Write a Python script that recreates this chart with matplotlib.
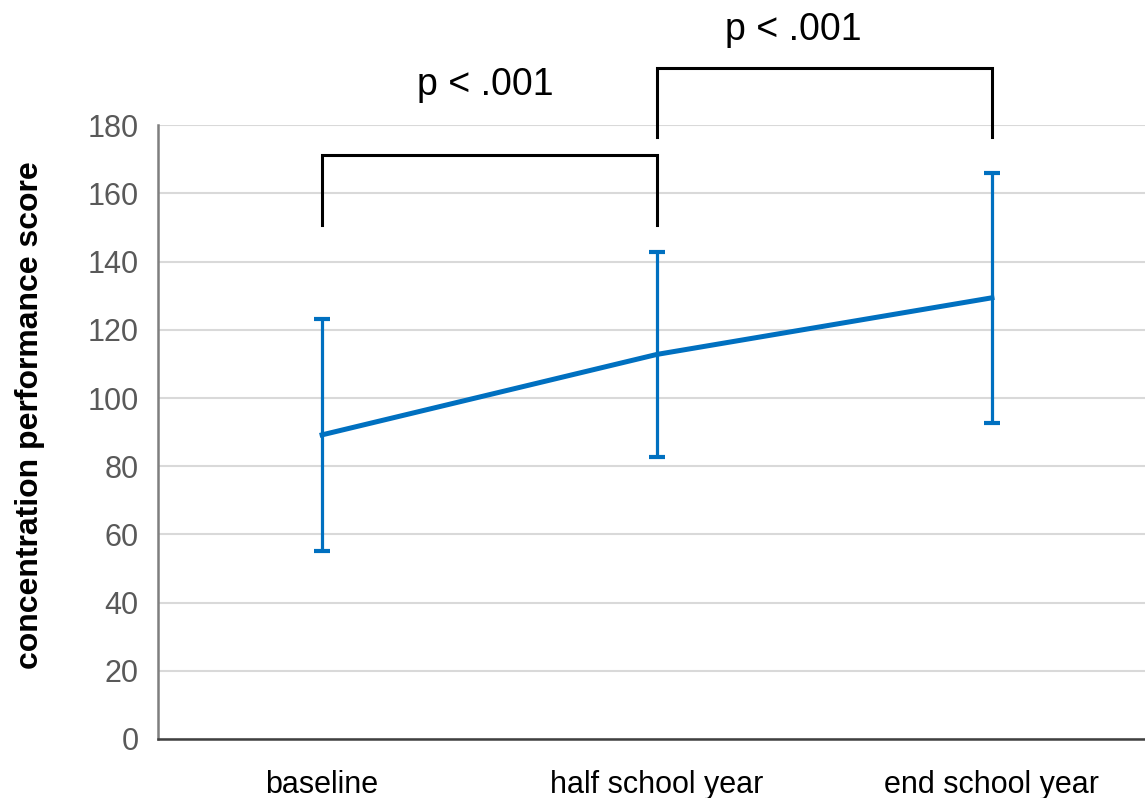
import matplotlib
matplotlib.use("Agg")
import matplotlib.pyplot as plt
import numpy as np

plt.rcParams["font.family"] = ["Liberation Sans", "DejaVu Sans"]

# data
timepoints = ["baseline", "half school year", "end school year"]
mean_score = [89.2, 112.8, 129.4]
sd_score = [34.0, 30.0, 36.6]
# significance brackets: (from index, to index, bar height, leg end, label)
brackets = [
    (0, 1, 171.3, 150.7, "p < .001"),
    (1, 2, 196.8, 176.6, "p < .001"),
]
label_x = [0.487, 1.406]
label_y = [191.8, 208.0]

blue = "#0070C0"

fig = plt.figure(figsize=(11.45, 7.98), dpi=100)
ax = fig.add_axes([0.138, 0.074, 0.862, 0.769])

x = np.arange(len(timepoints))
ax.errorbar(x, mean_score, yerr=sd_score, color=blue, lw=3.6,
            elinewidth=2.3, capsize=6, capthick=3, zorder=3)

ax.set_xlim(-0.49, 2.457)
ax.set_ylim(0, 180)
ax.set_yticks(np.arange(0, 181, 20))
ax.set_xticks(x)
ax.set_xticklabels(timepoints, fontsize=22, color="black")
ax.tick_params(axis="y", length=0, pad=14, labelsize=22, labelcolor="#595959")
ax.tick_params(axis="x", length=0, pad=22)
ax.yaxis.grid(True, color="#d9d9d9", lw=1.5)
ax.set_axisbelow(True)

for side in ("top", "right"):
    ax.spines[side].set_visible(False)
ax.spines["left"].set_color("#7f7f7f")
ax.spines["left"].set_linewidth(1.8)
ax.spines["bottom"].set_color("#404040")
ax.spines["bottom"].set_linewidth(1.8)

ax.set_ylabel("concentration performance score", fontsize=23, fontweight="bold")
ax.yaxis.set_label_coords(-0.1144, 0.527)

for (i, j, top, leg, txt), tx, ty in zip(brackets, label_x, label_y):
    ax.plot([x[i], x[i], x[j], x[j]], [leg, top, top, leg], color="black",
            lw=2.2, clip_on=False, solid_joinstyle="miter")
    ax.text(tx, ty, txt, ha="center", va="center", fontsize=27, clip_on=False)

fig.savefig("out.png", dpi=100)
